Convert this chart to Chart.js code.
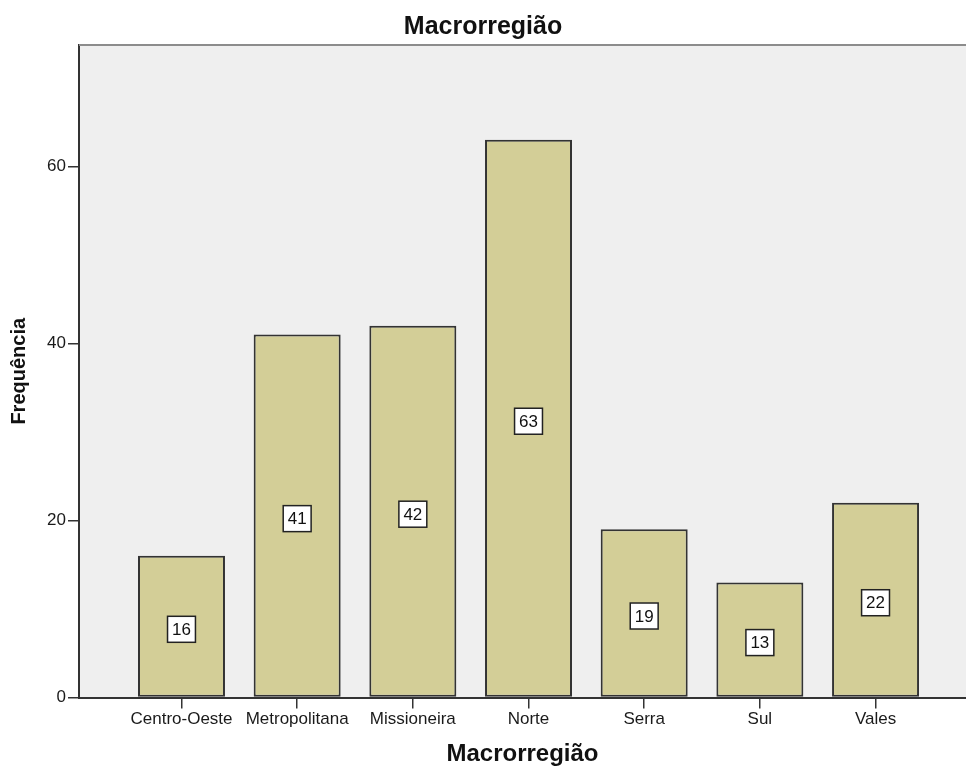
<!DOCTYPE html>
<html>
<head>
<meta charset="utf-8">
<script src="https://cdn.jsdelivr.net/npm/chart.js@4/dist/chart.umd.min.js"></script>
<style>
  html, body { margin: 0; padding: 0; background: #ffffff; overflow: hidden; }
  #wrap { width: 966px; height: 769px; }
</style>
</head>
<body>
<div id="wrap"><canvas id="c" width="966" height="769"></canvas></div>
<script>
const categories = ["Centro-Oeste", "Metropolitana", "Missioneira", "Norte", "Serra", "Sul", "Vales"];
const frequencies = [16, 41, 42, 63, 19, 13, 22];
const yTicks = [0, 20, 40, 60];
const chartTitle = "Macrorregião";
const xTitle = "Macrorregião";
const yTitle = "Frequência";

const points = categories.map((c, i) => ({ x: i, y: frequencies[i] }));

const bgPlugin = {
  id: 'plotBg',
  beforeDraw(chart) {
    const { ctx, chartArea: a } = chart;
    ctx.save();
    ctx.fillStyle = '#efefef';
    ctx.fillRect(a.left, a.top, a.right - a.left, a.bottom - a.top);
    ctx.restore();
  },
  afterDraw(chart) {
    const { ctx, chartArea: a } = chart;
    ctx.save();
    ctx.strokeStyle = '#8c8c8c';
    ctx.lineWidth = 2;
    ctx.beginPath();
    ctx.moveTo(a.left, a.top);
    ctx.lineTo(a.right, a.top);
    ctx.stroke();
    ctx.restore();
  }
};

const labelPlugin = {
  id: 'valueBoxes',
  afterDatasetsDraw(chart) {
    const { ctx } = chart;
    const meta = chart.getDatasetMeta(0);
    ctx.save();
    ctx.font = '17px "Liberation Sans", Arial, sans-serif';
    ctx.textAlign = 'center';
    ctx.textBaseline = 'middle';
    meta.data.forEach((el, i) => {
      const txt = String(frequencies[i]);
      const w = ctx.measureText(txt).width + 9;
      const h = 26;
      const cx = el.x;
      const cy = (el.y + el.base) / 2 + 3;
      ctx.fillStyle = '#ffffff';
      ctx.fillRect(cx - w / 2, cy - h / 2, w, h);
      ctx.strokeStyle = '#222222';
      ctx.lineWidth = 1.5;
      ctx.strokeRect(cx - w / 2, cy - h / 2, w, h);
      ctx.fillStyle = '#111111';
      ctx.fillText(txt, cx, cy + 1);
    });
    ctx.restore();
  }
};

new Chart(document.getElementById('c'), {
  type: 'bar',
  data: {
    datasets: [{
      data: points,
      backgroundColor: '#d3ce97',
      borderColor: '#333333',
      borderWidth: 2,
      borderSkipped: false,
      categoryPercentage: 1,
      barPercentage: 0.752
    }]
  },
  options: {
    responsive: false,
    animation: false,
    devicePixelRatio: 1,
    layout: { padding: 0 },
    plugins: {
      legend: { display: false },
      tooltip: { enabled: false },
      title: {
        display: true,
        text: chartTitle,
        color: '#111111',
        font: { family: '"Liberation Sans", Arial, sans-serif', size: 25, weight: 'bold' },
        padding: { top: 12, bottom: 3 }
      }
    },
    scales: {
      x: {
        type: 'linear',
        offset: false,
        min: -0.886,
        max: 6.782,
        afterFit(scale) { scale.height = 71.5; },
        afterBuildTicks(scale) { scale.ticks = categories.map((c, i) => ({ value: i })); },
        ticks: {
          autoSkip: false,
          maxRotation: 0,
          padding: 1,
          color: '#1a1a1a',
          font: { family: '"Liberation Sans", Arial, sans-serif', size: 17 },
          callback: (v) => categories[v]
        },
        grid: { drawOnChartArea: false, drawTicks: true, tickLength: 11, color: '#333333', lineWidth: 1.5, offset: false },
        border: { display: true, color: '#333333', width: 2 },
        title: {
          display: true,
          text: xTitle,
          color: '#111111',
          font: { family: '"Liberation Sans", Arial, sans-serif', size: 24, weight: 'bold' },
          padding: { top: 0, bottom: 0 }
        }
      },
      y: {
        min: 0,
        max: 73.7,
        afterFit(scale) { scale.width = 79; },
        afterBuildTicks(scale) { scale.ticks = yTicks.map(v => ({ value: v })); },
        ticks: {
          padding: 2,
          color: '#1a1a1a',
          font: { family: '"Liberation Sans", Arial, sans-serif', size: 17 }
        },
        grid: { drawOnChartArea: false, drawTicks: true, tickLength: 11, color: '#333333', lineWidth: 1.5 },
        border: { display: true, color: '#333333', width: 2 },
        title: {
          display: true,
          text: yTitle,
          color: '#111111',
          font: { family: '"Liberation Sans", Arial, sans-serif', size: 20, weight: 'bold' },
          padding: { top: 7, bottom: 0 }
        }
      }
    }
  },
  plugins: [bgPlugin, labelPlugin]
});
</script>
</body>
</html>
